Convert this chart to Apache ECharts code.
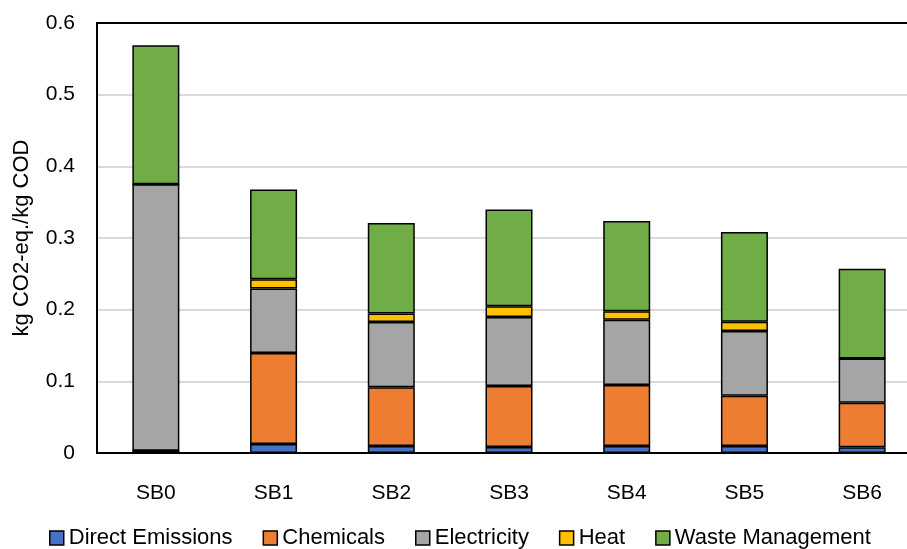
<!DOCTYPE html>
<html><head><meta charset="utf-8">
<script src="https://cdn.jsdelivr.net/npm/echarts@6/dist/echarts.min.js"></script>
<style>html,body{margin:0;padding:0;background:#fff}#c{width:907px;height:549px}</style>
</head><body><div id="c"></div>
<script>
const categories = ['SB0','SB1','SB2','SB3','SB4','SB5','SB6'];
const directEmissions = [0.003, 0.0126, 0.0098, 0.0084, 0.0098, 0.0098, 0.008];
const chemicals = [0.0, 0.127, 0.082, 0.085, 0.085, 0.070, 0.062];
const electricity = [0.372, 0.090, 0.091, 0.0965, 0.091, 0.0905, 0.062];
const heat = [0.0, 0.013, 0.012, 0.015, 0.012, 0.013, 0.0];
const wasteManagement = [0.194, 0.125, 0.126, 0.135, 0.126, 0.125, 0.125];
const yTicks = [0, 0.1, 0.2, 0.3, 0.4, 0.5, 0.6];

const names = ['Direct Emissions','Chemicals','Electricity','Heat','Waste Management'];
const colors = ['#4472C4','#ED7D31','#A5A5A5','#FFC000','#70AD47'];
const dataSets = [directEmissions, chemicals, electricity, heat, wasteManagement];
const font = 'Liberation Sans';

const chart = echarts.init(document.getElementById('c'));
chart.setOption({
  animation: false,
  textStyle: {fontFamily: font},
  grid: {left: 97, right: -14, top: 23, bottom: 96, show: true, borderColor: '#000', borderWidth: 2,
         containLabel: false, outerBoundsMode: 'none'},
  legend: {
    bottom: -5, left: 44,
    itemWidth: 14, itemHeight: 14, itemGap: 30,
    textStyle: {fontSize: 22, color: '#000', fontFamily: font},
    icon: 'rect',
    itemStyle: {borderColor: '#000', borderWidth: 1.5},
    data: names
  },
  xAxis: {
    type: 'category', data: categories,
    axisLine: {lineStyle: {color: '#000', width: 2}},
    axisTick: {show: false},
    axisLabel: {fontSize: 21, color: '#000', margin: 30}
  },
  yAxis: {
    type: 'value', min: 0, max: 0.6, interval: 0.1,
    name: 'kg CO2-eq./kg COD', nameLocation: 'middle', nameGap: 64,
    nameTextStyle: {fontSize: 22, color: '#000'},
    axisLine: {show: true, lineStyle: {color: '#000', width: 2}},
    axisTick: {show: false},
    axisLabel: {fontSize: 21, color: '#000', margin: 22,
      formatter: v => { const t = yTicks.find(x => Math.abs(x - v) < 1e-9); return t === undefined ? '' : String(t); }},
    splitLine: {lineStyle: {color: ['#d9d9d9','#d9d9d9','#d9d9d9','#d9d9d9','#d9d9d9','#d9d9d9','#000'], width: 2}}
  },
  series: dataSets.map((d, i) => ({
    name: names[i], type: 'bar', stack: 'total', data: d,
    barWidth: 47,
    itemStyle: {color: colors[i], borderColor: '#000', borderWidth: 1.5}
  }))
});
</script></body></html>
